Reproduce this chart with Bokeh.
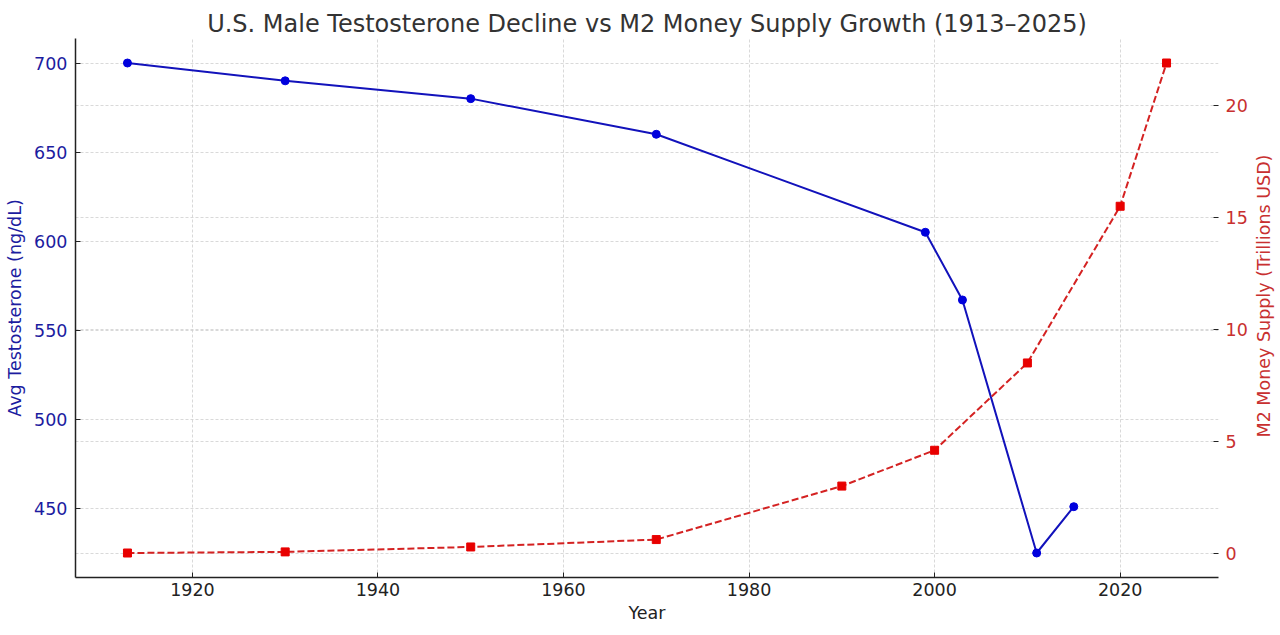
import math
from bokeh.plotting import figure
from bokeh.layouts import row
from bokeh.models import Range1d, LinearAxis, FixedTicker, Grid, ColumnDataSource
from bokeh.core.properties import value
from bokeh.embed import file_html
from bokeh.resources import INLINE

# Data
t_years = [1913, 1930, 1950, 1970, 1999, 2003, 2011, 2015]
testosterone = [700, 690, 680, 660, 605, 567, 425, 451]
m2_years = [1913, 1930, 1950, 1970, 1990, 2000, 2010, 2020, 2025]
m2_supply = [0.01, 0.06, 0.28, 0.61, 3.0, 4.6, 8.5, 15.5, 21.9]
x_ticks = [1920, 1940, 1960, 1980, 2000, 2020]
left_ticks = [450, 500, 550, 600, 650, 700]
right_ticks = [0, 5, 10, 15, 20]
right_label_text = "M2 Money Supply (Trillions USD)"

FONT = "DejaVu Sans"
BLUE_LINE = "#1212bb"
BLUE_MARK = "#0000dd"
BLUE_TEXT = "#1c1ca0"
RED_LINE = "#d42222"
RED_MARK = "#e80000"
RED_TEXT = "#c83030"
GRID = "#cfcfcf"
TS = "17.5px"
FRAME_W, FRAME_H = 1143, 539
B_TOP, B_BOTTOM = 38, 56

def pad(lo, hi, f=0.05):
    d = (hi - lo) * f
    return lo - d, hi + d

xlo, xhi = pad(min(t_years + m2_years), max(t_years + m2_years))
ylo, yhi = pad(min(testosterone), max(testosterone))
rlo, rhi = pad(min(m2_supply), max(m2_supply))

p = figure(frame_width=FRAME_W, frame_height=FRAME_H, output_backend="svg", toolbar_location=None,
           x_range=Range1d(xlo, xhi), y_range=Range1d(ylo, yhi),
           title="U.S. Male Testosterone Decline vs M2 Money Supply Growth (1913–2025)",
           min_border_left=75, min_border_right=31, min_border_top=B_TOP, min_border_bottom=B_BOTTOM)
p.extra_y_ranges = {"m2": Range1d(rlo, rhi)}

p.title.align = "center"
p.title.text_font = FONT
p.title.text_font_size = "24px"
p.title.text_font_style = "normal"
p.title.text_color = "#333333"
p.title.standoff = 2

p.outline_line_color = None
p.background_fill_color = "white"
p.border_fill_color = "white"

# x axis
xa = p.xaxis[0]
xa.ticker = FixedTicker(ticks=x_ticks)
xa.axis_label = "Year"
xa.axis_label_text_font = FONT
xa.axis_label_text_font_size = TS
xa.axis_label_text_font_style = "normal"
xa.axis_label_text_color = "#222222"
xa.axis_label_standoff = 4
xa.major_label_text_font = FONT
xa.major_label_text_font_size = TS
xa.major_label_text_color = "#222222"
xa.axis_line_color = "#222222"
xa.axis_line_width = 1.5
xa.major_tick_in = 5
xa.major_tick_out = 0
xa.major_tick_line_color = "#222222"
xa.minor_tick_line_color = None
xa.major_label_standoff = 5

# left axis
ya = p.yaxis[0]
ya.ticker = FixedTicker(ticks=left_ticks)
ya.axis_label = "Avg Testosterone (ng/dL)"
ya.axis_label_text_font = FONT
ya.axis_label_text_font_size = TS
ya.axis_label_text_font_style = "normal"
ya.axis_label_text_color = BLUE_TEXT
ya.axis_label_standoff = 6
ya.major_label_text_font = FONT
ya.major_label_text_font_size = TS
ya.major_label_text_color = BLUE_TEXT
ya.axis_line_color = "#222222"
ya.axis_line_width = 1.5
ya.major_tick_in = 5
ya.major_tick_out = 0
ya.major_tick_line_color = "#222222"
ya.minor_tick_line_color = None
ya.major_label_standoff = 8

# right axis (its label is drawn in a narrow side panel so it reads bottom-to-top)
ra = LinearAxis(y_range_name="m2", ticker=FixedTicker(ticks=right_ticks))
ra.major_label_text_font = FONT
ra.major_label_text_font_size = TS
ra.major_label_text_color = RED_TEXT
ra.axis_line_color = None
ra.major_tick_in = 5
ra.major_tick_out = 0
ra.major_tick_line_color = "#222222"
ra.minor_tick_line_color = None
ra.major_label_standoff = 7
p.add_layout(ra, "right")

# grids
p.xgrid.grid_line_color = GRID
p.xgrid.grid_line_dash = "3 2"
p.xgrid.grid_line_width = 0.8
p.xgrid.ticker = FixedTicker(ticks=x_ticks)
p.ygrid.grid_line_color = GRID
p.ygrid.grid_line_dash = "3 2"
p.ygrid.grid_line_width = 0.8
p.ygrid.ticker = FixedTicker(ticks=left_ticks)
rg = Grid(dimension=1, ticker=FixedTicker(ticks=right_ticks), y_range_name="m2",
          grid_line_color=GRID, grid_line_dash="3 2", grid_line_width=0.8)
p.add_layout(rg, "center")

# testosterone series
ts = ColumnDataSource(dict(x=t_years, y=testosterone))
p.line("x", "y", source=ts, line_color=BLUE_LINE, line_width=2)
p.scatter("x", "y", source=ts, marker="circle", size=8, fill_color=BLUE_MARK, line_color=BLUE_MARK)

# M2 series
ms = ColumnDataSource(dict(x=m2_years, y=m2_supply))
p.line("x", "y", source=ms, y_range_name="m2", line_color=RED_LINE, line_width=2, line_dash="7 3")
p.scatter("x", "y", source=ms, y_range_name="m2", marker="square", size=8,
          fill_color=RED_MARK, line_color=RED_MARK)

# side panel holding the right axis title
p2 = figure(frame_width=26, frame_height=FRAME_H, output_backend="svg", toolbar_location=None,
            x_range=Range1d(-1, 1), y_range=Range1d(rlo, rhi),
            x_axis_location=None, y_axis_location=None,
            min_border_left=0, min_border_right=0, min_border_top=B_TOP, min_border_bottom=B_BOTTOM)
p2.outline_line_color = None
p2.grid.visible = False
p2.border_fill_color = "white"
p2.text(x=[0], y=[(rlo + rhi) / 2 + 12 * (rhi - rlo) / FRAME_H], text=[right_label_text],
        angle=math.pi / 2, text_align="center", text_baseline="middle",
        text_font=value(FONT), text_font_size=value(TS), text_color=RED_TEXT)

layout = row(p, p2, spacing=0)
open("out.html", "w").write(file_html(layout, INLINE))
